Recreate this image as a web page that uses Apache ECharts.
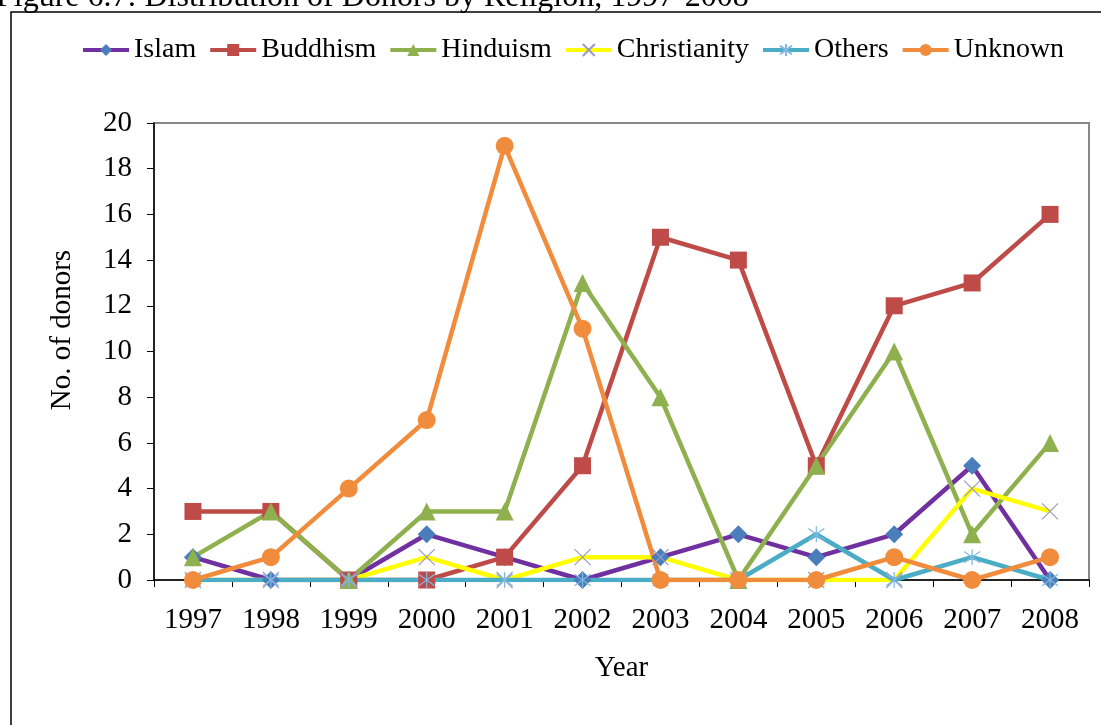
<!DOCTYPE html>
<html>
<head>
<meta charset="utf-8">
<script src="https://cdn.jsdelivr.net/npm/echarts@6/dist/echarts.min.js"></script>
<style>html,body{margin:0;padding:0;background:#fff}#c{width:1101px;height:725px}</style>
</head>
<body>
<div id="c"></div>
<script>
const years = ['1997','1998','1999','2000','2001','2002','2003','2004','2005','2006','2007','2008'];
const islam = [1,0,0,2,1,0,1,2,1,2,5,0];
const buddhism = [3,3,0,0,1,5,15,14,5,12,13,16];
const hinduism = [1,3,0,3,3,13,8,0,5,10,2,6];
const christianity = [0,0,0,1,0,1,1,0,0,0,4,3];
const others = [0,0,0,0,0,0,0,0,2,0,1,0];
const unknown = [0,1,4,7,19,11,0,0,0,1,0,1];
const yTicks = [0,2,4,6,8,10,12,14,16,18,20];

const FONT = '"Liberation Serif", "Times New Roman", serif';
const xPath = 'path://M0,0L10,10M10,0L0,10';
const starPath = 'path://M0,0L10,10M10,0L0,10M5,-2L5,12';

function mk(name, data, lineColor, symbol, symColor, size, stroke) {
  const s = {
    name, type: 'line', data, symbol, symbolSize: size,
    lineStyle: { color: lineColor, width: 4.5 },
    itemStyle: { color: symColor, borderColor: symColor, borderWidth: stroke ? 1.2 : 0 },
    emphasis: { disabled: true },
    z: 2
  };
  if (stroke) s.itemStyle.color = 'rgba(0,0,0,0)';
  return s;
}

const chart = echarts.init(document.getElementById('c'));
chart.setOption({
  animation: false,
  backgroundColor: '#fff',
  graphic: [
    { type: 'rect', shape: { x: 11, y: 12, width: 1200, height: 800 },
      style: { fill: 'none', stroke: '#000', lineWidth: 1.5 }, z: 0 },
    { type: 'text', x: -4, y: 14,
      style: { text: 'Figure 6.7: Distribution of Donors by Religion, 1997-2008', font: '32px ' + FONT, fill: '#000', verticalAlign: 'bottom' } },
    { type: 'text', x: 62, y: 330, rotation: Math.PI / 2,
      style: { text: 'No. of donors', font: '29px ' + FONT, fill: '#000', align: 'center', verticalAlign: 'middle' } }
  ],
  legend: {
    top: 31, left: 76, itemWidth: 46, itemHeight: 15, itemGap: 12,
    lineStyle: { width: 4 },
    textStyle: { fontFamily: FONT, fontSize: 28, color: '#000' },
    data: ['Islam','Buddhism','Hinduism','Christianity','Others','Unknown']
  },
  grid: { left: 154, top: 123, right: 12, bottom: 145, show: true, borderColor: '#888', borderWidth: 2 },
  xAxis: {
    type: 'category', data: years, boundaryGap: true,
    name: 'Year', nameLocation: 'middle', nameGap: 74,
    nameTextStyle: { fontFamily: FONT, fontSize: 29, color: '#000' },
    axisLine: { lineStyle: { color: '#000', width: 1.5 } },
    axisTick: { show: true, length: 7, lineStyle: { color: '#000' } },
    axisLabel: { fontFamily: FONT, fontSize: 29, color: '#000', margin: 26 }
  },
  yAxis: {
    type: 'value', min: 0, max: 20, interval: 2,
    axisLine: { show: true, lineStyle: { color: '#000', width: 1.5 } },
    axisTick: { show: true, length: 7, lineStyle: { color: '#000' } },
    splitLine: { show: false },
    axisLabel: { fontFamily: FONT, fontSize: 29, color: '#000', margin: 22,
      formatter: v => yTicks.includes(v) ? String(v) : '' }
  },
  series: [
    mk('Islam', islam, '#7030A0', 'diamond', '#4A7EBB', 18),
    mk('Buddhism', buddhism, '#BE4B48', 'rect', '#BE4B48', 17),
    mk('Hinduism', hinduism, '#8FB04E', 'triangle', '#8FB04E', 18),
    mk('Christianity', christianity, '#FFFF00', xPath, '#9A9AC8', 16, true),
    mk('Others', others, '#4BACC6', starPath, '#7FB8E0', 16, true),
    mk('Unknown', unknown, '#F08C3C', 'circle', '#F08C3C', 18)
  ]
});
</script>
</body>
</html>
